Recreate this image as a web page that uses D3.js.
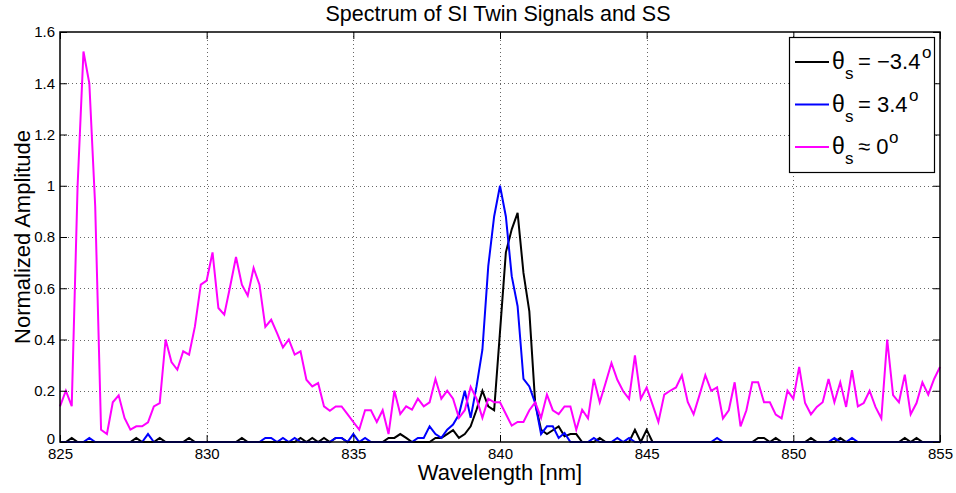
<!DOCTYPE html>
<html><head><meta charset="utf-8">
<script src="https://cdn.jsdelivr.net/npm/d3@7"></script>
<style>
body{margin:0;background:#fff}
svg{display:block;font-family:"Liberation Sans",Arial,Helvetica,sans-serif}
</style>
</head><body>
<svg id="chart" width="956" height="493"></svg>
<script>
const titleText = "Spectrum of SI Twin Signals and SS";
const xLabelText = "Wavelength [nm]";
const yLabelText = "Normalized Amplitude";
const xTicks = [825, 830, 835, 840, 845, 850, 855];
const yTicks = [0, 0.2, 0.4, 0.6, 0.8, 1, 1.2, 1.4, 1.6];
const wlStart = 825, wlStep = 0.2;

// theta_s = -3.4 deg (black)
const seriesNeg = [
0,0,0.016,0,0,0,0,0,0,0,
0,0,0,0.016,0,0,0,0.016,0,0,
0,0,0.016,0,0,0,0,0,0,0,
0,0.016,0,0,0,0,0,0,0,0,
0,0.016,0,0.016,0,0.016,0,0.016,0.016,0,
0,0,0,0,0,0,0.016,0.016,0.031,0.016,
0,0,0,0,0.016,0.016,0.031,0.046,0.016,0.031,
0.061,0.126,0.20,0.139,0.124,0.43,0.74,0.83,0.894,0.66,
0.51,0.152,0.048,0.031,0.046,0.061,0.022,0.031,0.031,0,
0,0,0.016,0,0,0,0,0,0.048,0,
0.048,0,0,0,0,0,0,0,0,0,
0,0,0,0,0,0,0,0,0,0.016,
0.016,0,0.016,0,0,0,0,0,0.016,0,
0,0,0,0.016,0,0,0,0,0,0,
0,0,0,0,0.016,0,0.016,0,0,0,0
];
// theta_s = 3.4 deg (blue)
const seriesPos = [
0,0,0,0,0,0.016,0,0,0,0,
0,0,0,0,0,0.031,0,0,0,0,
0,0,0,0,0,0,0,0,0,0,
0,0,0,0,0,0.016,0.016,0,0.016,0,
0.016,0,0,0,0,0,0,0.016,0.016,0,
0.031,0,0.016,0,0,0,0,0,0,0,
0,0.016,0.016,0.061,0.031,0.016,0.048,0.068,0.107,0.20,
0.094,0.217,0.36,0.686,0.88,1.0,0.88,0.647,0.53,0.246,
0.217,0.152,0.031,0.061,0.061,0.016,0.035,0,0,0,
0,0.016,0,0,0,0.016,0,0.016,0,0,
0,0,0,0,0,0,0,0,0,0,
0,0,0.016,0,0,0,0,0,0,0,
0,0,0,0,0,0,0,0,0,0,
0,0,0.016,0,0,0.016,0,0,0,0,
0,0,0,0,0,0,0,0,0,0,0
];
// theta_s ~ 0 deg (magenta)
const seriesZero = [
0.139,0.20,0.14,1.00,1.524,1.40,0.92,0.048,0.031,0.155,
0.182,0.094,0.048,0.061,0.061,0.077,0.139,0.152,0.40,0.312,
0.282,0.354,0.341,0.451,0.614,0.63,0.74,0.523,0.497,0.607,
0.722,0.614,0.571,0.679,0.614,0.449,0.477,0.425,0.369,0.40,
0.341,0.354,0.243,0.217,0.23,0.139,0.122,0.139,0.139,0.109,
0.078,0.048,0.124,0.124,0.078,0.124,0.031,0.20,0.109,0.139,
0.126,0.169,0.139,0.155,0.246,0.169,0.20,0.169,0.094,0.124,
0.215,0.169,0.094,0.169,0.155,0.155,0.109,0.064,0.078,0.078,
0.124,0.155,0.094,0.185,0.124,0.109,0.139,0.139,0.048,0.126,
0.092,0.246,0.155,0.23,0.308,0.243,0.198,0.168,0.338,0.169,
0.213,0.146,0.078,0.185,0.20,0.213,0.26,0.156,0.108,0.183,
0.261,0.20,0.213,0.092,0.124,0.233,0.061,0.124,0.233,0.233,
0.155,0.155,0.107,0.092,0.20,0.169,0.293,0.152,0.108,0.137,
0.155,0.246,0.155,0.233,0.137,0.28,0.139,0.152,0.20,0.137,
0.092,0.40,0.183,0.155,0.263,0.108,0.152,0.233,0.185,0.246,0.293
];

const seriesList = [
  {data: seriesNeg, color: "#000000", main: "= \u22123.4", supX: 922},
  {data: seriesPos, color: "#0000ff", main: "= 3.4", supX: 909},
  {data: seriesZero, color: "#ff00ff", main: "\u2248 0", supX: 889}
];

const svg = d3.select("#chart");
const L = 60, R = 940, T = 32, B = 442;
const x = d3.scaleLinear().domain([825, 855]).range([L, R]);
const y = d3.scaleLinear().domain([0, 1.6]).range([B, T]);

svg.append("rect").attr("width", 956).attr("height", 493).attr("fill", "#fff");

// grid
const grid = svg.append("g").attr("stroke", "#666").attr("stroke-width", 1)
  .attr("stroke-dasharray", "1,3").attr("shape-rendering", "crispEdges");
xTicks.slice(1, -1).forEach(t => {
  grid.append("line").attr("x1", Math.round(x(t)) + 0.5).attr("x2", Math.round(x(t)) + 0.5)
    .attr("y1", T).attr("y2", B);
});
yTicks.slice(1, -1).forEach(t => {
  grid.append("line").attr("x1", L).attr("x2", R)
    .attr("y1", Math.round(y(t)) + 0.5).attr("y2", Math.round(y(t)) + 0.5);
});

// lines
const line = d3.line().x((d, i) => x(wlStart + i * wlStep)).y(d => y(d));
seriesList.forEach(s => {
  svg.append("path").datum(s.data).attr("d", line).attr("fill", "none")
    .attr("stroke", s.color).attr("stroke-width", 2).attr("stroke-linejoin", "miter");
});

// axes
const fmt = d => String(+d.toFixed(1));
const axB = svg.append("g").attr("transform", `translate(0,${B})`)
  .call(d3.axisBottom(x).tickValues(xTicks).tickSizeInner(-7).tickSizeOuter(0).tickPadding(6).tickFormat(fmt));
const axL = svg.append("g").attr("transform", `translate(${L},0)`)
  .call(d3.axisLeft(y).tickValues(yTicks).tickSizeInner(-7).tickSizeOuter(0).tickPadding(5).tickFormat(fmt));
const axT = svg.append("g").attr("transform", `translate(0,${T})`)
  .call(d3.axisTop(x).tickValues(xTicks).tickSizeInner(-7).tickSizeOuter(0).tickFormat(""));
const axR = svg.append("g").attr("transform", `translate(${R},0)`)
  .call(d3.axisRight(y).tickValues(yTicks).tickSizeInner(-7).tickSizeOuter(0).tickFormat(""));
[axB, axL, axT, axR].forEach(a => {
  a.select(".domain").remove();
  a.selectAll("line").attr("stroke", "#000");
  a.selectAll("text").attr("font-size", 15).attr("fill", "#000")
    .attr("font-family", '"Liberation Sans",Arial,sans-serif');
});
// nudge the zero label slightly up so it does not collide with the first x label
axL.selectAll(".tick").filter(d => d === 0).select("text").attr("dy", "0.1em");
svg.append("rect").attr("x", L).attr("y", T).attr("width", R - L).attr("height", B - T)
  .attr("fill", "none").attr("stroke", "#000").attr("stroke-width", 1.5);

// title & labels
svg.append("text").attr("x", 498).attr("y", 21).attr("text-anchor", "middle")
  .attr("font-size", 21.5).text(titleText);
svg.append("text").attr("x", 500).attr("y", 480).attr("text-anchor", "middle")
  .attr("font-size", 22).text(xLabelText);
svg.append("text").attr("transform", `translate(30,${(T + B) / 2}) rotate(-90)`)
  .attr("text-anchor", "middle").attr("font-size", 22).text(yLabelText);

// legend
const lg = svg.append("g");
lg.append("rect").attr("x", 789.5).attr("y", 37.5).attr("width", 145).attr("height", 135)
  .attr("fill", "#fff").attr("stroke", "#000").attr("stroke-width", 1.2);
seriesList.forEach((s, i) => {
  const ry = 62 + i * 42.5;
  lg.append("line").attr("x1", 795).attr("x2", 829).attr("y1", ry).attr("y2", ry)
    .attr("stroke", s.color).attr("stroke-width", 2);
  const t = lg.append("text").attr("y", ry + 7).attr("font-size", 22).attr("fill", "#000");
  t.append("tspan").attr("x", 832).attr("font-size", 23).text("\u03B8");
  t.append("tspan").attr("x", 845).attr("y", ry + 17).attr("font-size", 17).text("s");
  t.append("tspan").attr("x", 858).attr("y", ry + 7).text(s.main);
  t.append("tspan").attr("x", s.supX).attr("y", ry - 4).attr("font-size", 17).text("o");
});
</script>
</body></html>
